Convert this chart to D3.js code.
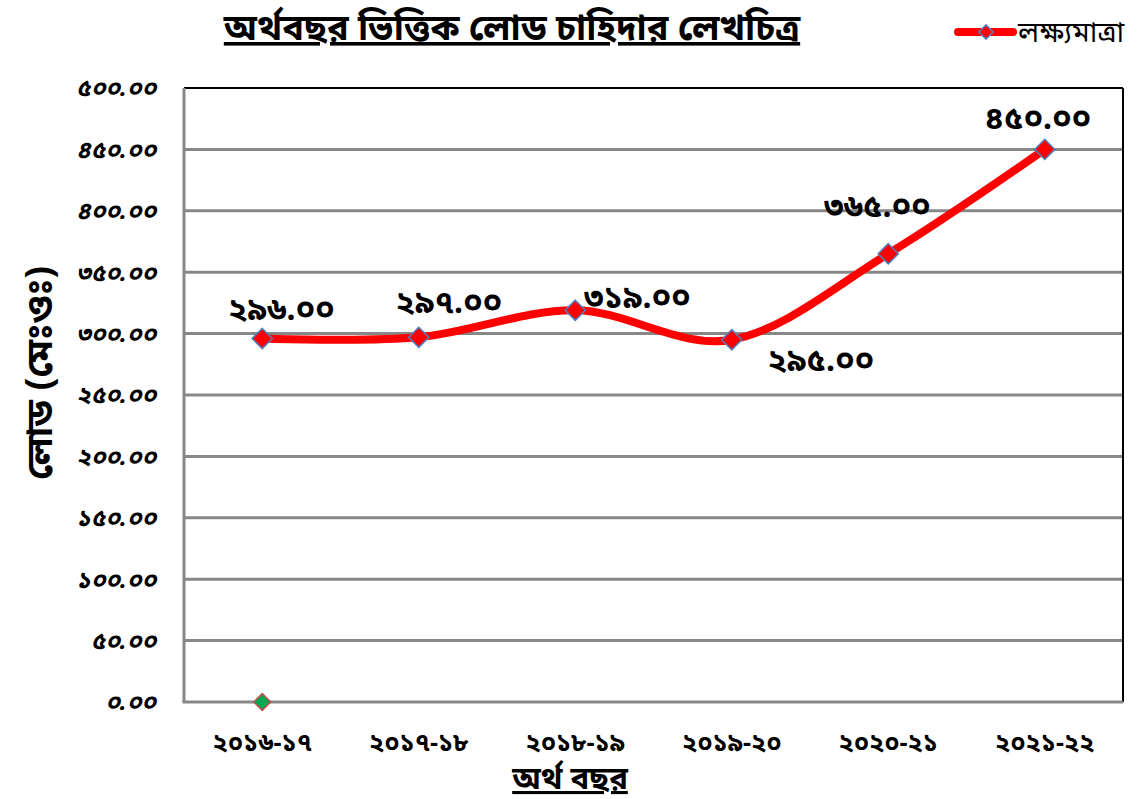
<!DOCTYPE html>
<html>
<head>
<meta charset="utf-8">
<script src="https://cdnjs.cloudflare.com/ajax/libs/d3/7.8.5/d3.min.js"></script>
<style>
  body { margin: 0; background: #fff; }
  svg { font-family: "Noto Sans", "Noto Sans Bengali", sans-serif; }
  .grid line { stroke: #878787; stroke-width: 3; }
  .tick-y { font-size: 24px; font-weight: bold; font-style: italic; }
  .tick-x { font-size: 25px; font-weight: bold; }
  .label { font-size: 32px; font-weight: bold; }
</style>
</head>
<body>
<div id="chart"></div>
<script>
  // data
  const years = ['2016-17', '2017-18', '2018-19', '2019-20', '2020-21', '2021-22'];
  const target = [296, 297, 319, 295, 365, 450];
  const other = [0];           // green marker at the first year
  const yTicks = [0, 50, 100, 150, 200, 250, 300, 350, 400, 450, 500];
  // label offsets relative to each point (dx, dy)
  const labelPos = [[19, -30], [30, -35], [62, -13], [89, 20], [-11, -48], [-7, -32]];

  const bnDigits = '০১২৩৪৫৬৭৮৯';
  const bn = s => String(s).replace(/[0-9]/g, d => bnDigits[+d]);

  const width = 1143, height = 799;
  const margin = { top: 88, right: 20, bottom: 97, left: 184 };

  const svg = d3.select('#chart').append('svg')
      .attr('width', width)
      .attr('height', height);

  const x = d3.scalePoint()
      .domain(years)
      .range([margin.left, width - margin.right])
      .padding(0.5);

  const y = d3.scaleLinear()
      .domain([0, 500])
      .range([height - margin.bottom, margin.top]);

  // gridlines
  svg.append('g').attr('class', 'grid')
    .selectAll('line')
    .data(yTicks.slice(1, -1))
    .join('line')
      .attr('x1', margin.left)
      .attr('x2', width - margin.right)
      .attr('y1', d => y(d))
      .attr('y2', d => y(d));

  // plot frame: top and right black, left and bottom grey
  svg.append('line')
      .attr('x1', margin.left).attr('x2', width - margin.right)
      .attr('y1', y(500)).attr('y2', y(500))
      .attr('stroke', '#000').attr('stroke-width', 2);
  svg.append('line')
      .attr('x1', width - margin.right).attr('x2', width - margin.right)
      .attr('y1', y(500)).attr('y2', y(0))
      .attr('stroke', '#000').attr('stroke-width', 2);
  svg.append('line')
      .attr('x1', margin.left).attr('x2', margin.left)
      .attr('y1', y(500)).attr('y2', y(0))
      .attr('stroke', '#878787').attr('stroke-width', 3);
  svg.append('line')
      .attr('x1', margin.left - 1.5).attr('x2', width - margin.right)
      .attr('y1', y(0)).attr('y2', y(0))
      .attr('stroke', '#878787').attr('stroke-width', 3);

  // y tick labels
  svg.append('g')
    .selectAll('text')
    .data(yTicks)
    .join('text')
      .attr('class', 'tick-y')
      .attr('x', 156)
      .attr('y', d => y(d))
      .attr('dy', '0.35em')
      .attr('text-anchor', 'end')
      .text(d => bn(d.toFixed(2)));

  // x tick labels
  svg.append('g')
    .selectAll('text')
    .data(years)
    .join('text')
      .attr('class', 'tick-x')
      .attr('x', d => x(d))
      .attr('y', 751)
      .attr('text-anchor', 'middle')
      .text(d => bn(d));

  // line
  const line = d3.line()
      .x((d, i) => x(years[i]))
      .y(d => y(d))
      .curve(d3.curveCatmullRom.alpha(0));

  svg.append('path')
      .datum(target)
      .attr('d', line)
      .attr('fill', 'none')
      .attr('stroke', '#ff0000')
      .attr('stroke-width', 8)
      .attr('stroke-linecap', 'round');

  const diamond = d3.symbol().type(d3.symbolDiamond2).size(260);

  svg.append('g')
    .selectAll('path')
    .data(target)
    .join('path')
      .attr('transform', (d, i) => `translate(${x(years[i])},${y(d)})`)
      .attr('d', diamond)
      .attr('fill', '#ff0000')
      .attr('stroke', '#4f81bd')
      .attr('stroke-width', 1.5);

  svg.append('g')
    .selectAll('path')
    .data(other)
    .join('path')
      .attr('transform', (d, i) => `translate(${x(years[i])},${y(d)})`)
      .attr('d', d3.symbol().type(d3.symbolDiamond2).size(180))
      .attr('fill', '#00a94f')
      .attr('stroke', '#c0504d')
      .attr('stroke-width', 1.5);

  // data labels
  svg.append('g')
    .selectAll('text')
    .data(target)
    .join('text')
      .attr('class', 'label')
      .attr('x', (d, i) => x(years[i]) + labelPos[i][0])
      .attr('y', (d, i) => y(d) + labelPos[i][1])
      .attr('dy', '0.35em')
      .attr('text-anchor', 'middle')
      .text(d => bn(d.toFixed(2)));

  // title
  svg.append('text')
      .attr('x', 512).attr('y', 40)
      .attr('text-anchor', 'middle')
      .attr('font-size', 36).attr('font-weight', 'bold')
      .attr('text-decoration', 'underline')
      .text('অর্থবছর ভিত্তিক লোড চাহিদার লেখচিত্র');

  // axis titles
  svg.append('text')
      .attr('transform', `translate(52,${(y(0) + y(500)) / 2 - 22}) rotate(-90)`)
      .attr('text-anchor', 'middle')
      .attr('font-size', 37).attr('font-weight', 'bold')
      .text('লোড (মেঃওঃ)');

  svg.append('text')
      .attr('x', 570).attr('y', 789)
      .attr('text-anchor', 'middle')
      .attr('font-size', 31).attr('font-weight', 'bold')
      .attr('text-decoration', 'underline')
      .text('অর্থ বছর');

  // legend
  const lg = svg.append('g').attr('transform', 'translate(958,32)');
  lg.append('line')
      .attr('x1', 0).attr('x2', 55)
      .attr('stroke', '#ff0000').attr('stroke-width', 8)
      .attr('stroke-linecap', 'round');
  lg.append('path')
      .attr('transform', 'translate(28,0)')
      .attr('d', d3.symbol().type(d3.symbolDiamond2).size(130))
      .attr('fill', '#ff0000')
      .attr('stroke', '#4f81bd')
      .attr('stroke-width', 1.5);
  lg.append('text')
      .attr('x', 60).attr('y', 0).attr('dy', '0.35em')
      .attr('font-size', 29)
      .text('লক্ষ্যমাত্রা');
</script>
</body>
</html>
